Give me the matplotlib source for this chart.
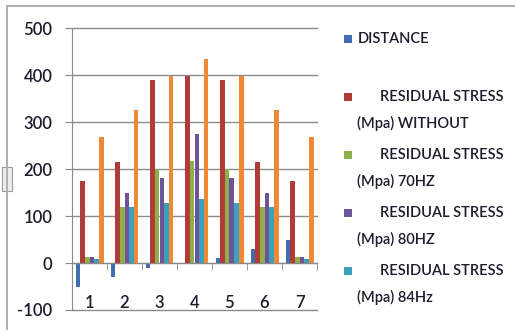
import numpy as np
import matplotlib
matplotlib.use("Agg")
import matplotlib.pyplot as plt
from matplotlib.patches import Rectangle

categories = ["1", "2", "3", "4", "5", "6", "7"]
distance = [-50, -30, -10, 0, 10, 30, 50]
stress_without = [175, 215, 390, 398, 390, 215, 175]
stress_70hz = [12, 120, 200, 218, 200, 120, 12]
stress_80hz = [12, 150, 180, 274, 180, 150, 12]
stress_84hz = [8, 120, 127, 137, 127, 120, 8]
stress_extra = [268, 325, 398, 435, 398, 325, 268]

series_labels = ["DISTANCE",
                 ["RESIDUAL STRESS", "(Mpa) WITHOUT"],
                 ["RESIDUAL STRESS", "(Mpa) 70HZ"],
                 ["RESIDUAL STRESS", "(Mpa) 80HZ"],
                 ["RESIDUAL STRESS", "(Mpa) 84Hz"]]
y_ticks = [-100, 0, 100, 200, 300, 400, 500]

colors = ["#3F6FB0", "#B23B38", "#8DB04A", "#6F539A", "#3BA0BE", "#EE8A35"]
series = [distance, stress_without, stress_70hz, stress_80hz, stress_84hz, stress_extra]

FONT = ["Lato", "DejaVu Sans"]
TXT = "#1c1c2c"

W, H = 515, 330
fig = plt.figure(figsize=(W / 100, H / 100), dpi=100)
fig.patch.set_facecolor("white")

# chart frame
fig.add_artist(plt.Line2D([7 / W, 7 / W], [0, 1 - 6 / H], color="#b0b0b0", lw=1.4, transform=fig.transFigure))
fig.add_artist(plt.Line2D([7 / W, 1], [1 - 6 / H, 1 - 6 / H], color="#b0b0b0", lw=1.4, transform=fig.transFigure))
# small selection handle artifact on the left edge
fig.add_artist(Rectangle((2 / W, 1 - 191 / H), 10 / W, 24 / H, transform=fig.transFigure,
                         facecolor="#eeeeee", edgecolor="#9a9a9a", lw=0.8))

left, right, top, bottom = 72, 317, 28, 310
ax = fig.add_axes([left / W, 1 - bottom / H, (right - left) / W, (bottom - top) / H])

x = np.arange(len(categories))
n = len(series)
bw = 1 / (n + 1.5)
for i, (vals, c) in enumerate(zip(series, colors)):
    ax.bar(x + (i - (n - 1) / 2) * bw, vals, width=bw, color=c, zorder=3, linewidth=0)

ax.set_xlim(-0.5, len(categories) - 0.5)
ax.set_ylim(-100, 500)
ax.set_yticks(y_ticks)
ax.set_yticklabels([str(v) for v in y_ticks], fontfamily=FONT, fontsize=12, fontweight="semibold", color=TXT)
ax.yaxis.grid(True, color="#8a8a8a", lw=1.0, zorder=0)
for gl in ax.yaxis.get_gridlines():
    gl.set_clip_on(False)
ax.tick_params(axis="y", length=5, color="#8a8a8a", pad=9)

ax.spines["top"].set_visible(False)
ax.spines["right"].set_visible(False)
ax.spines["left"].set_color("#8a8a8a")
ax.spines["bottom"].set_position(("data", 0))
ax.spines["bottom"].set_color("#8a8a8a")
ax.spines["bottom"].set_zorder(4)

ax.set_xticks(x)
ax.set_xticklabels(categories, fontfamily=FONT, fontsize=12, fontweight="semibold", color=TXT)
ax.tick_params(axis="x", which="major", length=0, pad=23)
ax.set_xticks(np.arange(len(categories) + 1) - 0.5, minor=True)
ax.tick_params(axis="x", which="minor", length=5, color="#8a8a8a", direction="out")

# legend (only five entries visible in the reference)
leg_y = [39, 97, 155, 213, 271]
fs = 10.5
for lab, c, yy in zip(series_labels, colors, leg_y):
    fig.add_artist(Rectangle((344 / W, 1 - (yy + 4) / H), 8 / W, 8 / H, transform=fig.transFigure,
                             facecolor=c, edgecolor="none"))
    kw = dict(fontfamily=FONT, fontsize=fs, fontweight="semibold", color=TXT, va="center", ha="left")
    if isinstance(lab, str):
        fig.text(358 / W, 1 - yy / H, lab, **kw)
    else:
        fig.text(380 / W, 1 - yy / H, lab[0], **kw)
        fig.text(357 / W, 1 - (yy + 26) / H, lab[1], **kw)

fig.savefig("out.png", dpi=100)
